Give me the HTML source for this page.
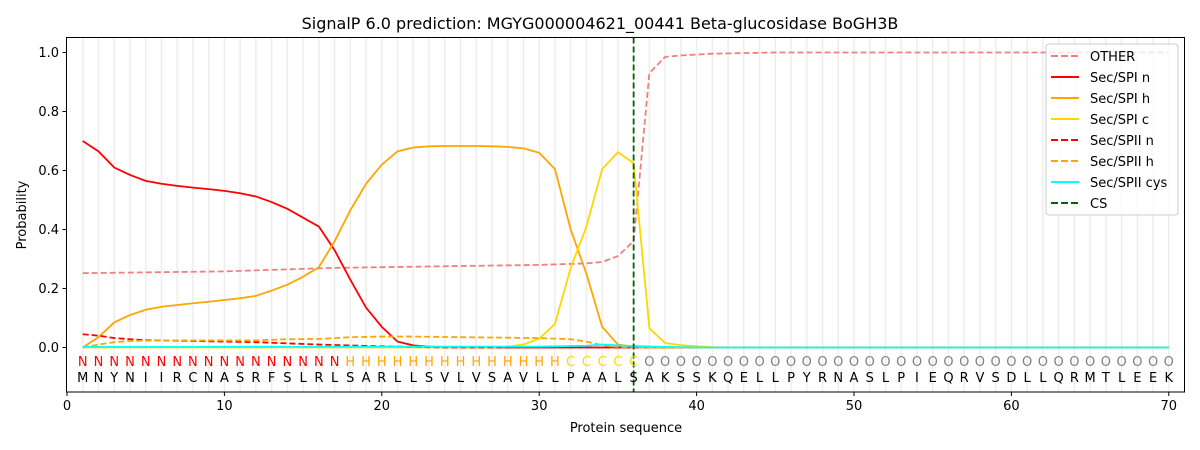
<!DOCTYPE html>
<html><head><meta charset="utf-8"><style>body{margin:0;background:#fff}svg{display:block;font-family:"DejaVu Sans","Liberation Sans",sans-serif}</style></head>
<body><svg id="s" width="1200" height="450" xmlns="http://www.w3.org/2000/svg">
<rect width="1200" height="450" fill="#fff"/>
<g id="grid"></g><g id="lines"></g><g id="txt"></g>
<rect x="66.5" y="37.5" width="1118" height="354.5" fill="none" stroke="#000" stroke-width="1"/>
<g id="ticks" font-size="13"></g>
<text x="600" y="29" font-size="16" text-anchor="middle">SignalP 6.0 prediction: MGYG000004621_00441 Beta-glucosidase BoGH3B</text>
<text x="626" y="432" font-size="13" text-anchor="middle">Protein sequence</text>
<text x="0" y="0" font-size="13" text-anchor="middle" transform="translate(26,215) rotate(-90)">Probability</text>
<g font-size="13">
<rect x="1046" y="44" width="132" height="171" rx="3" fill="#fff" fill-opacity="0.8" stroke="#ccc"/>
<line x1="1051" x2="1079" y1="56" y2="56" stroke="#f08080" stroke-width="2" stroke-dasharray="7,3"/><text x="1090" y="61">OTHER</text>
<line x1="1051" x2="1079" y1="77" y2="77" stroke="#ff0000" stroke-width="2"/><text x="1090" y="82">Sec/SPI n</text>
<line x1="1051" x2="1079" y1="98" y2="98" stroke="#ffa500" stroke-width="2"/><text x="1090" y="103">Sec/SPI h</text>
<line x1="1051" x2="1079" y1="119" y2="119" stroke="#ffd700" stroke-width="2"/><text x="1090" y="124">Sec/SPI c</text>
<line x1="1051" x2="1079" y1="140" y2="140" stroke="#ff0000" stroke-width="2" stroke-dasharray="7,3"/><text x="1090" y="145">Sec/SPII n</text>
<line x1="1051" x2="1079" y1="161" y2="161" stroke="#ffa500" stroke-width="2" stroke-dasharray="7,3"/><text x="1090" y="166">Sec/SPII h</text>
<line x1="1051" x2="1079" y1="182" y2="182" stroke="#00ffff" stroke-width="2"/><text x="1090" y="187">Sec/SPII cys</text>
<line x1="1051" x2="1079" y1="203" y2="203" stroke="#006400" stroke-width="2" stroke-dasharray="7,3"/><text x="1090" y="208">CS</text>
</g>
</svg>
<script>
const NS="http://www.w3.org/2000/svg";
const X=i=>67+i*15.74, Y=v=>347.5-v*295;
function el(p,t,a,txt){const e=document.createElementNS(NS,t);for(const k in a)e.setAttribute(k,a[k]);if(txt!=null)e.textContent=txt;document.getElementById(p).appendChild(e);return e;}
for(let i=1;i<=70;i++)el("grid","line",{x1:X(i),x2:X(i),y1:37.5,y2:392,stroke:"#000","stroke-opacity":0.07,"stroke-width":1.5});
function interp(pts){const a=[];const ks=Object.keys(pts).map(Number).sort((a,b)=>a-b);for(let i=1;i<=70;i++){let v;if(pts[i]!=null)v=pts[i];else{let lo=ks.filter(k=>k<i).pop(),hi=ks.find(k=>k>i);if(lo==null)v=pts[hi];else if(hi==null)v=pts[lo];else v=pts[lo]+(pts[hi]-pts[lo])*(i-lo)/(hi-lo);}a.push(v);}return a;}
function line(pts,c,dash){const a=interp(pts);el("lines","polyline",{points:a.map((v,i)=>X(i+1)+","+Y(v)).join(" "),fill:"none",stroke:c,"stroke-width":1.8,"stroke-dasharray":dash||"none"});}
line({1:.252,10:.258,17:.27,30:.28,33:.285,34:.29,35:.31,36:.36,37:.93,38:.985,39:.99,41:.996,45:1,70:1},"#f08080","6,3");
line({1:.70,2:.665,3:.61,4:.585,5:.565,6:.555,7:.548,8:.542,9:.537,10:.531,11:.523,12:.512,13:.493,14:.47,15:.44,16:.41,17:.33,18:.23,19:.135,20:.07,21:.02,22:.007,23:.003,25:0,70:0},"#ff0000");
line({1:0,2:.035,3:.085,4:.11,5:.128,6:.138,7:.144,8:.15,9:.155,10:.161,11:.167,12:.175,13:.193,14:.213,15:.24,16:.272,17:.36,18:.465,19:.555,20:.62,21:.665,22:.678,23:.682,24:.683,26:.683,27:.682,28:.68,29:.675,30:.66,31:.605,32:.40,33:.25,34:.07,35:.01,36:.002,37:0,70:0},"#ffa500");
line({1:0,27:0,28:.003,29:.01,30:.03,31:.08,32:.27,33:.41,34:.605,35:.662,36:.625,37:.065,38:.015,39:.008,40:.004,41:.001,42:0,70:0},"#ffd700");
line({1:.045,2:.04,3:.032,4:.028,5:.025,8:.022,12:.018,16:.01,20:.004,24:0,70:0},"#ff0000","6,3");
line({1:0,2:.01,3:.018,4:.022,6:.024,12:.024,14:.028,16:.029,18:.035,20:.037,22:.037,25:.035,30:.032,32:.028,33:.02,34:.008,35:.002,36:0,70:0},"#ffa500","6,3");
line({1:.002,30:.003,33:.006,34:.01,35:.007,36:.005,38:.002,40:0,70:0},"#00ffff");
el("lines","line",{x1:X(36),x2:X(36),y1:37.5,y2:392,stroke:"#006400","stroke-width":1.8,"stroke-dasharray":"6,3"});
const seq="MNYNIIRCNASRFSLRLSARLLSVLVSAVLLPAALSAKSSKQELLPYRNASLPIEQRVSDLLQRMTLEEK";
for(let i=1;i<=70;i++){let l,c;if(i<=17){l="N";c="#ff0000"}else if(i<=31){l="H";c="#ffa500"}else if(i<=36){l="C";c="#ffd700"}else{l="O";c="#808080"}
el("txt","text",{x:X(i),y:366,"font-size":13,"text-anchor":"middle",fill:c},l);
el("txt","text",{x:X(i),y:382,"font-size":13,"text-anchor":"middle",fill:"#000"},seq[i-1]);}
for(let t=0;t<=70;t+=10){el("ticks","line",{x1:X(t),x2:X(t),y1:392,y2:396,stroke:"#000"});el("ticks","text",{x:X(t),y:410,"text-anchor":"middle"},t);}
for(let k=0;k<=5;k++){const v=k*.2,y=Y(v);el("ticks","line",{x1:62.5,x2:66.5,y1:y,y2:y,stroke:"#000"});el("ticks","text",{x:59,y:y+4.5,"text-anchor":"end"},v.toFixed(1));}
</script></body></html>
